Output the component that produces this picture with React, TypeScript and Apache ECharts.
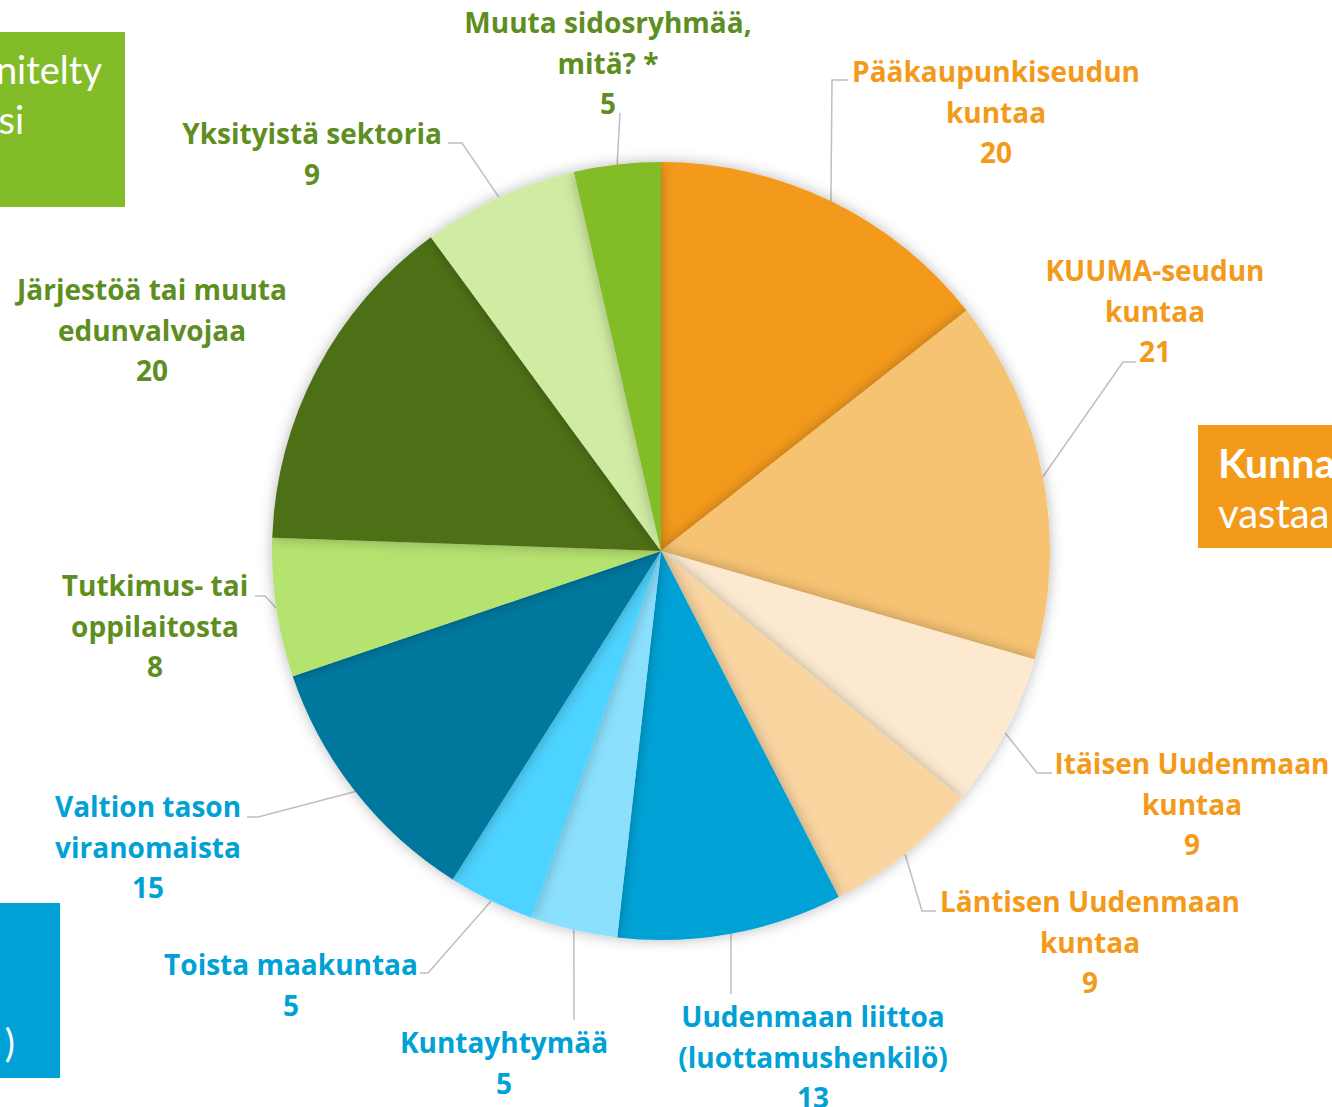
import React, { useEffect, useRef } from 'react';
import * as echarts from 'echarts';

// ---- Data ----
const categories = [
  'Pääkaupunkiseudun\nkuntaa',
  'KUUMA-seudun\nkuntaa',
  'Itäisen Uudenmaan\nkuntaa',
  'Läntisen Uudenmaan\nkuntaa',
  'Uudenmaan liittoa\n(luottamushenkilö)',
  'Kuntayhtymää',
  'Toista maakuntaa',
  'Valtion tason\nviranomaista',
  'Tutkimus- tai\noppilaitosta',
  'Järjestöä tai muuta\nedunvalvojaa',
  'Yksityistä sektoria',
  'Muuta sidosryhmää,\nmitä? *',
];
const values = [20, 21, 9, 9, 13, 5, 5, 15, 8, 20, 9, 5];

// ---- Styles ----
const ORANGE = '#F39A1A';
const BLUE = '#00A1D5';
const GREEN = '#5E8E1F';
const sliceColors = [
  '#F39A1A', '#F6C373', '#FCE9CF', '#F9D5A0',
  '#00A2D6', '#8BE0FE', '#4DD3FF', '#00789E',
  '#B5E36F', '#4E7018', '#D1EBA3', '#82BC28',
];
const labelColors = [
  ORANGE, ORANGE, ORANGE, ORANGE,
  BLUE, BLUE, BLUE, BLUE,
  GREEN, GREEN, GREEN, GREEN,
];
// label anchor (top-center of text block) and leader-line elbows
const labelPlacement: { x: number; y: number; line: number[][] | null }[] = [
  { x: 996, y: 51, line: [[832, 80], [848, 80]] },
  { x: 1155, y: 250, line: [[1123, 362], [1136, 362]] },
  { x: 1192, y: 743, line: [[1037, 773], [1052, 773]] },
  { x: 1090, y: 881, line: [[922, 911], [936, 911]] },
  { x: 813, y: 996, line: [[731, 994]] },
  { x: 504, y: 1022, line: [[574, 1020]] },
  { x: 291, y: 944, line: [[428, 973], [420, 973]] },
  { x: 148, y: 786, line: [[258, 817], [247, 817]] },
  { x: 155, y: 565, line: [[265, 596], [255, 596]] },
  { x: 152, y: 269, line: null },
  { x: 312, y: 113, line: [[462, 143], [448, 143]] },
  { x: 608, y: 2, line: [[620, 113]] },
];

const CX = 661;
const CY = 551;
const R = 389;
const FONT = '"Open Sans"';
const BOX_FONT = 'Lato';

export default function App() {
  const ref = useRef<HTMLDivElement>(null);
  useEffect(() => {
    document.body.style.margin = '0';
    const chart = echarts.init(ref.current!, null, { renderer: 'svg' });
    const total = values.reduce((a, b) => a + b, 0);
    const cum: number[] = [];
    let acc = 0;
    values.forEach((v) => {
      cum.push(acc + v / 2);
      acc += v;
    });

    const option: any = {
      animation: false,
      backgroundColor: '#ffffff',
      graphic: [
        { type: 'rect', shape: { x: 0, y: 32, width: 125, height: 175 }, style: { fill: '#82BC28' } },
        { type: 'text', x: 102, y: 69, style: { text: 'nitelty', fill: '#fff', font: `38px ${BOX_FONT}`, textAlign: 'right', textVerticalAlign: 'middle' } },
        { type: 'text', x: 24, y: 119, style: { text: 'si', fill: '#fff', font: `38px ${BOX_FONT}`, textAlign: 'right', textVerticalAlign: 'middle' } },
        { type: 'rect', shape: { x: 1198, y: 425, width: 140, height: 123 }, style: { fill: '#F39A1A' } },
        { type: 'text', x: 1218, y: 462, style: { text: 'Kunna', fill: '#fff', font: `bold 41px ${BOX_FONT}`, textAlign: 'left', textVerticalAlign: 'middle' } },
        { type: 'text', x: 1218, y: 513, style: { text: 'vastaa', fill: '#fff', font: `40px ${BOX_FONT}`, textAlign: 'left', textVerticalAlign: 'middle' } },
        { type: 'rect', shape: { x: 0, y: 903, width: 60, height: 175 }, style: { fill: '#00A1D5' } },
        { type: 'text', x: 15, y: 1042, style: { text: ')', fill: '#fff', font: `38px ${BOX_FONT}`, textAlign: 'right', textVerticalAlign: 'middle' } },
      ],
      series: [
        {
          type: 'pie',
          center: [CX, CY],
          radius: R,
          startAngle: 90,
          clockwise: true,
          avoidLabelOverlap: false,
          itemStyle: { shadowBlur: 14, shadowColor: 'rgba(0,0,0,0.28)' },
          label: {
            show: true,
            position: 'outside',
            formatter: '{b}\n{c}',
            fontFamily: FONT,
            fontWeight: 'bold',
            fontSize: 28,
            lineHeight: 40.5,
            align: 'center',
          },
          labelLine: { show: true, lineStyle: { color: '#BFBFBF', width: 1.5 } },
          labelLayout: (params: any) => {
            const i = params.dataIndex;
            const P = labelPlacement[i];
            const theta = (cum[i] / total) * Math.PI * 2;
            const edge = [CX + R * Math.sin(theta), CY - R * Math.cos(theta)];
            const res: any = { x: P.x, y: P.y, align: 'center', verticalAlign: 'top' };
            if (P.line) res.labelLinePoints = [edge, ...P.line];
            return res;
          },
          data: values.map((v, i) => ({
            name: categories[i],
            value: v,
            itemStyle: { color: sliceColors[i] },
            label: { color: labelColors[i] },
            labelLine: { show: labelPlacement[i].line !== null },
          })),
        },
      ],
    };
    chart.setOption(option);
    return () => chart.dispose();
  }, []);
  return <div ref={ref} style={{ width: 1332, height: 1107 }} />;
}
